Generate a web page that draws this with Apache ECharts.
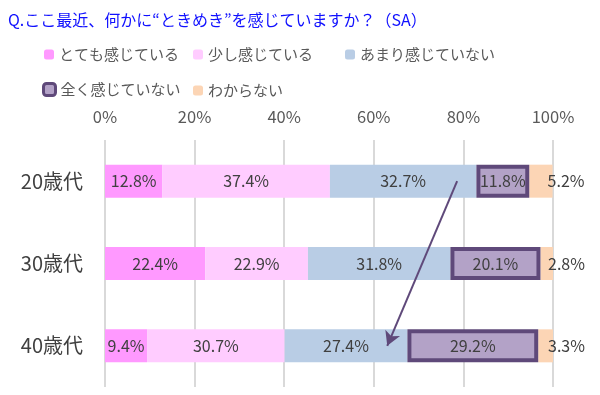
<!DOCTYPE html>
<html><head><meta charset="utf-8">
<script src="https://cdn.jsdelivr.net/npm/echarts@6/dist/echarts.min.js"></script>
<style>html,body{margin:0;padding:0;background:#fff}#c{width:600px;height:395px}</style>
</head><body><div id="c"></div>
<script>
var categories = ['20歳代', '30歳代', '40歳代'];
var seriesNames = ['とても感じている', '少し感じている', 'あまり感じていない', '全く感じていない', 'わからない'];
var veryMuch = [12.8, 22.4, 9.4];
var aLittle = [37.4, 22.9, 30.7];
var notMuch = [32.7, 31.8, 27.4];
var notAtAll = [11.8, 20.1, 29.2];
var dontKnow = [5.2, 2.8, 3.3];
var tickLabels = ['0%', '20%', '40%', '60%', '80%', '100%'];
var arrowFrom = [78.6, '20歳代'];
var arrowTo = [63.0, '40歳代'];

var FONT = '"Noto Sans CJK JP", "Noto Sans", sans-serif';
var colors = ['#FF99FF', '#FFCCFF', '#B9CDE5', '#B3A2C7', '#FCD5B5'];
var seriesData = [veryMuch, aLittle, notMuch, notAtAll, dontKnow];

var chart = echarts.init(document.getElementById('c'));
var legendPos = [[39, 42], [188, 42], [340, 42], [37, 77], [188, 78]];
var legends = seriesNames.map(function (n, i) {
  var item = { name: n };
  if (i === 3) item.itemStyle = { color: '#B3A2C7', borderColor: '#5F497A', borderWidth: 3 };
  return {
    data: [item], left: legendPos[i][0], top: legendPos[i][1],
    itemWidth: i === 3 ? 12 : 10, itemHeight: i === 3 ? 12 : 10, itemGap: 4,
    textStyle: { fontFamily: FONT, fontSize: 15, color: '#595959', padding: [0, 0, 0, 0] },
    selectedMode: false
  };
});

var series = seriesNames.map(function (n, i) {
  var s = {
    name: n, type: 'bar', stack: 'total', barWidth: 33,
    data: seriesData[i],
    itemStyle: { color: colors[i] },
    label: {
      show: true, position: i === 4 ? 'right' : 'inside', distance: 0,
      offset: i === 4 ? [-5, 0] : [0, 0],
      formatter: function (p) { return p.value.toFixed(1) + '%'; },
      fontFamily: FONT, fontSize: 16, color: '#404040'
    },
    emphasis: { disabled: true }
  };
  if (i === 3) {
    s.itemStyle = { color: '#B3A2C7', borderColor: '#5F497A', borderWidth: 4 };
    s.z = 3;
    s.markLine = {
      silent: true, symbol: ['none', 'arrow'], symbolSize: [12, 14],
      lineStyle: { color: '#5F497A', width: 2, type: 'solid' },
      label: { show: false },
      data: [[{ coord: arrowFrom }, { coord: arrowTo }]]
    };
  }
  return s;
});

chart.setOption({
  animation: false,
  title: {
    text: 'Q.ここ最近、何かに“ときめき”を感じていますか？（SA）',
    left: 3, top: 7,
    textStyle: { fontFamily: FONT, fontSize: 16, fontWeight: 'normal', color: '#1010FF' }
  },
  legend: legends,
  grid: { left: 105, right: 47, top: 140, bottom: 8 },
  xAxis: {
    type: 'value', position: 'top', min: 0, max: 100, interval: 20,
    axisLine: { show: false }, axisTick: { show: false },
    splitLine: { lineStyle: { color: '#D9D9D9', width: 2 } },
    axisLabel: {
      margin: 15, fontFamily: FONT, fontSize: 16.5, color: '#595959',
      formatter: function (v) { return tickLabels[v / 20]; }
    }
  },
  yAxis: {
    type: 'category', data: categories, inverse: true,
    axisLine: { show: false }, axisTick: { show: false },
    axisLabel: { margin: 22, fontFamily: FONT, fontSize: 20, color: '#404040' }
  },
  series: series
});
</script></body></html>
